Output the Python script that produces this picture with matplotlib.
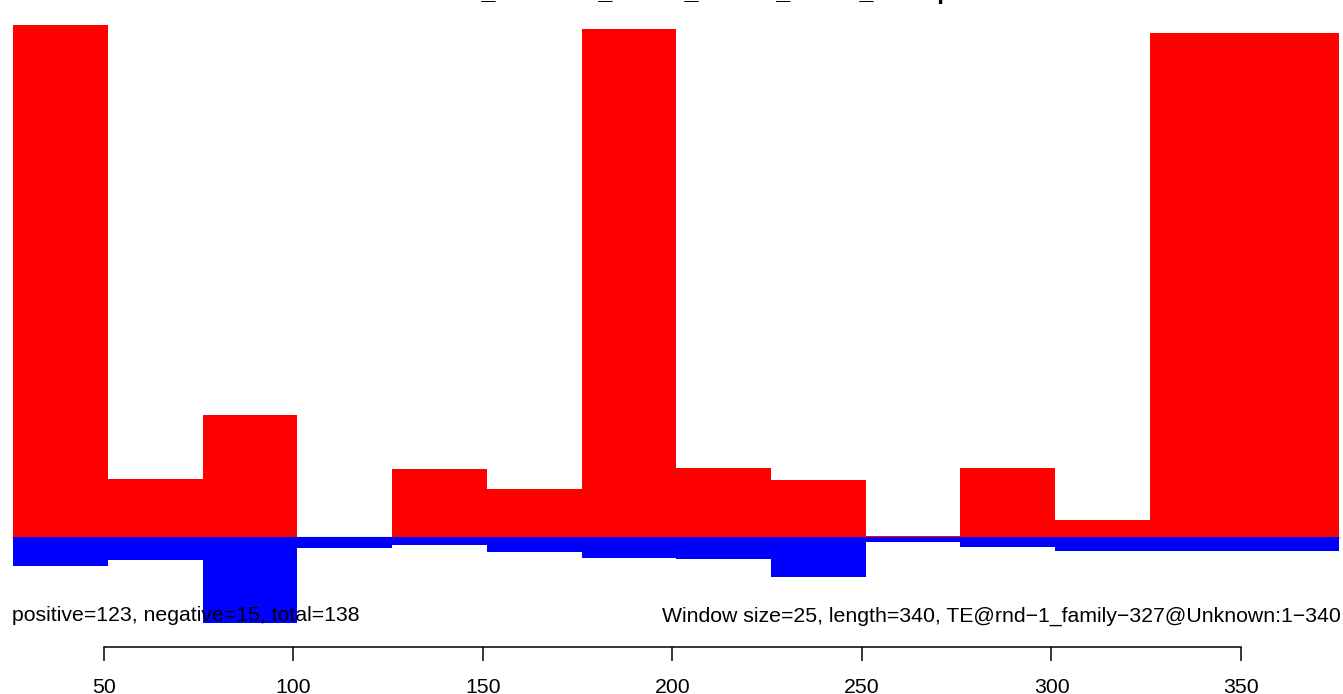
import matplotlib
matplotlib.use("Agg")
import matplotlib.pyplot as plt

plt.rcParams['font.family'] = ['Liberation Sans', 'DejaVu Sans']

# ── DATA ─────────────────────────────────────────────────
# window start positions (window size 25)
window_start = [26, 51, 76, 101, 126, 151, 176, 201, 226, 251, 276, 301, 326, 351]
window_size = 25
# positive strand signal (plotted upwards, red)
positive = [51.2, 5.8, 12.2, 0.0, 6.8, 4.8, 50.8, 6.9, 5.7, 0.1, 6.9, 1.7, 50.4, 50.4]
# negative strand signal (plotted downwards, blue)
negative = [2.9, 2.3, 8.6, 1.1, 0.8, 1.5, 2.1, 2.2, 4.0, 0.5, 1.0, 1.4, 1.4, 1.4]
x_ticks = [50, 100, 150, 200, 250, 300, 350]

title = "Unknown_TE-rnd-1_fm327_len340_win25_stackplot"
left_note = "positive=123, negative=15, total=138"
right_note = "Window size=25, length=340, TE@rnd\u22121_family\u2212327@Unknown:1\u2212340"

# ── PLOT ─────────────────────────────────────────────────
W, H = 1343, 694
fig = plt.figure(figsize=(W / 100, H / 100), dpi=100)
ax = fig.add_axes([12 / W, (H - 647) / H, (1341 - 12) / W, 647 / H])

ax.axhline(0, color='#BEBEBE', lw=1, zorder=0)
ax.bar(window_start, positive, width=window_size, align='edge',
       color='#FF0000', linewidth=0, zorder=2)
ax.bar(window_start, [-v for v in negative], width=window_size, align='edge',
       color='#0000FF', linewidth=0, zorder=2)

ax.set_xlim(25.73, 376.4)
ax.set_ylim(-11.0, 53.7)

for s in ['top', 'right', 'left']:
    ax.spines[s].set_visible(False)
ax.spines['bottom'].set_bounds(50, 350)
ax.spines['bottom'].set_linewidth(1.1)
ax.set_yticks([])
ax.set_xticks(x_ticks)
ax.tick_params(axis='x', length=10, width=1.1, pad=12, labelsize=15.3)

ax.text(0, 0.048, left_note, transform=ax.transAxes, ha='left', va='center',
        fontsize=15.3, zorder=3)
ax.text(0.9995, 0.048, right_note, transform=ax.transAxes, ha='right', va='center',
        fontsize=15.3, zorder=3)

# title sits almost entirely above the canvas, as in the reference
fig.text(676.5 / W, 1 + 0.5 / H, title, ha='center', va='baseline',
         fontsize=18, fontweight='bold')

fig.savefig('out.png', dpi=100)
